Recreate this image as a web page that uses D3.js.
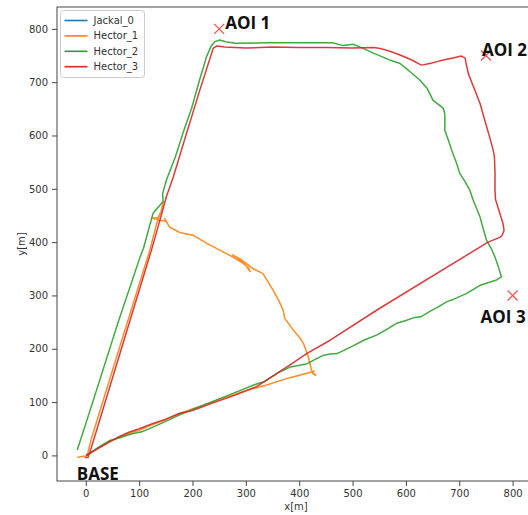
<!DOCTYPE html>
<html>
<head>
<meta charset="utf-8">
<script src="https://cdn.jsdelivr.net/npm/d3@7"></script>
<style>
  body { margin: 0; background: #fff; }
  .tick text { font-family: "DejaVu Sans", sans-serif; font-size: 10px; fill: #333; }
  .tick line { stroke: #444; }
  .label { font-family: "DejaVu Sans", sans-serif; font-size: 10px; fill: #333; }
  .aoi { font-family: "Open Sans", sans-serif; font-weight: bold; font-size: 17px; fill: #111; }
</style>
</head>
<body>
<div id="chart"></div>
<script>
// robot names and trajectories, [x, y] in metres
const robots = ["Jackal_0", "Hector_1", "Hector_2", "Hector_3"];

const jackal0 = [[0, 0]];

const hector1 = [
  [-16, -4], [-8, -2], [1, -1], [4, 5], [10, 30], [60, 192], [120, 385], [132, 432],
  [142, 460], [145, 474], [141, 458],
  [136, 446], [124, 445], [138, 441], [151, 439], [148, 444], [157, 428], [176, 418],
  [201, 413], [226, 398], [251, 385], [276, 372], [295, 360], [305, 352], [308, 345],
  [300, 356], [285, 370], [275, 376], [290, 368], [314, 350], [332, 341], [351, 310],
  [362, 290], [370, 272], [373, 257], [389, 235], [400, 222], [408, 210], [417, 185],
  [423, 160], [426, 153], [431, 150], [424, 157], [428, 158], [414, 154], [395, 149],
  [376, 144], [339, 132], [301, 122], [260, 108], [220, 94], [180, 80], [150, 67],
  [120, 56], [100, 47], [80, 41], [60, 33], [40, 23], [20, 12], [1, -1]
];

const hector2 = [
  [-16, 10], [20, 122], [60, 248], [101, 370], [108, 388], [126, 454], [145, 476],
  [144, 491], [151, 516], [168, 560], [182, 604], [198, 650], [212, 700], [226, 747],
  [235, 768], [242, 776], [251, 779], [262, 776], [280, 773], [350, 774], [400, 774],
  [462, 774], [481, 769], [502, 771], [521, 763], [540, 754], [555, 748], [571, 741],
  [589, 735], [605, 722], [626, 704], [640, 688], [651, 666], [665, 655], [670, 651],
  [673, 640], [673, 610], [680, 590], [686, 572], [695, 548], [701, 529], [710, 515],
  [720, 497], [726, 479], [733, 462], [739, 447], [745, 425], [751, 404], [760, 388],
  [767, 372], [773, 355], [779, 335], [770, 329], [739, 319], [714, 304], [690, 293],
  [676, 288], [660, 278], [645, 270], [628, 260], [614, 258], [600, 253], [583, 248],
  [565, 237], [546, 226], [521, 216], [500, 205], [471, 191], [458, 190], [446, 188],
  [430, 180], [415, 172], [384, 166], [360, 155], [334, 138], [320, 134], [290, 122],
  [250, 106], [200, 86], [176, 76], [157, 67], [130, 55], [107, 45], [85, 40],
  [64, 33], [45, 28], [25, 16], [5, 3], [0, 0]
];

const hector3 = [
  [-2, -4], [4, -4], [9, 10], [60, 178], [123, 385], [142, 452], [151, 485],
  [164, 522], [190, 608], [214, 686], [239, 764], [246, 768], [260, 766],
  [300, 764], [350, 766], [400, 765], [450, 765], [500, 764], [540, 765], [552, 763],
  [570, 758], [589, 751], [610, 742], [629, 732], [645, 735], [664, 740], [690, 746],
  [704, 749], [711, 745], [714, 730], [717, 716], [728, 688], [739, 660], [748, 628],
  [757, 597], [763, 575], [766, 560], [767, 530], [767, 497], [768, 480], [776, 454],
  [782, 435], [784, 422], [780, 412], [776, 409], [754, 400], [551, 276], [458, 216],
  [414, 191], [380, 168], [320, 129], [280, 113], [240, 99], [200, 84], [176, 79],
  [150, 68], [126, 60], [100, 50], [82, 44], [64, 36], [45, 26], [25, 14], [1, 0]
];

const tracks = [jackal0, hector1, hector2, hector3];

// areas of interest and base
const aoiNames = ["AOI 1", "AOI 2", "AOI 3"];
const aoiX = [250, 750, 800];
const aoiY = [800, 750, 300];
const baseName = "BASE";

const xTicks = [0, 100, 200, 300, 400, 500, 600, 700, 800];
const yTicks = [0, 100, 200, 300, 400, 500, 600, 700, 800];

const colours = ["#1f77b4", "#ff7f0e", "#2ca02c", "#d62728"];

const width = 528;
const height = 515;
const plot = { left: 57, right: 535, top: 7, bottom: 481 };

const xScale = d3.scaleLinear().domain([-54, 842]).range([plot.left, plot.right]);
const yScale = d3.scaleLinear().domain([-48, 841]).range([plot.bottom, plot.top]);

const svg = d3
  .select("#chart")
  .append("svg")
  .attr("width", width)
  .attr("height", height);

svg
  .append("clipPath")
  .attr("id", "clip")
  .append("rect")
  .attr("x", plot.left)
  .attr("y", plot.top)
  .attr("width", plot.right - plot.left)
  .attr("height", plot.bottom - plot.top);

// axes
const xAxis = svg
  .append("g")
  .attr("transform", `translate(0,${plot.bottom})`)
  .call(d3.axisBottom(xScale).tickValues(xTicks).tickSize(5).tickPadding(4).tickSizeOuter(0));
xAxis.select(".domain").remove();

const yAxis = svg
  .append("g")
  .attr("transform", `translate(${plot.left},0)`)
  .call(d3.axisLeft(yScale).tickValues(yTicks).tickSize(5).tickPadding(4).tickSizeOuter(0));
yAxis.select(".domain").remove();

svg
  .append("rect")
  .attr("x", plot.left)
  .attr("y", plot.top)
  .attr("width", plot.right - plot.left)
  .attr("height", plot.bottom - plot.top)
  .style("fill", "none")
  .style("stroke", "#444")
  .style("stroke-width", 1);

svg
  .append("text")
  .attr("class", "label")
  .attr("x", (plot.left + plot.right) / 2)
  .attr("y", 510)
  .attr("text-anchor", "middle")
  .text("x[m]");

svg
  .append("text")
  .attr("class", "label")
  .attr("transform", `translate(25,${(plot.top + plot.bottom) / 2}) rotate(-90)`)
  .attr("text-anchor", "middle")
  .text("y[m]");

// trajectories
const line = d3
  .line()
  .x(d => xScale(d[0]))
  .y(d => yScale(d[1]));

svg
  .append("g")
  .attr("clip-path", "url(#clip)")
  .selectAll("path")
  .data(tracks)
  .enter()
  .append("path")
  .attr("d", line)
  .style("fill", "none")
  .style("stroke", (d, i) => colours[i])
  .style("stroke-width", 1.5)
  .style("stroke-linejoin", "round")
  .style("opacity", 0.9);

// AOI markers
const marks = svg.append("g").selectAll("g").data(aoiNames).enter().append("g")
  .attr("transform", (d, i) => `translate(${xScale(aoiX[i])},${yScale(aoiY[i])})`);

marks
  .append("path")
  .attr("d", "M-5,-5L5,5M-5,5L5,-5")
  .style("stroke", "#f05555")
  .style("stroke-width", 1.3);

const labelShift = [[6, 0], [-4, 0], [-32, 28]];
marks
  .append("text")
  .attr("class", "aoi")
  .attr("x", (d, i) => labelShift[i][0])
  .attr("y", (d, i) => labelShift[i][1])
  .text(d => d);

svg
  .append("text")
  .attr("class", "aoi")
  .attr("x", xScale(0) - 9)
  .attr("y", yScale(0) + 25)
  .text(baseName);

// legend
const legend = svg.append("g").attr("transform", "translate(60.5,10.5)");

legend
  .append("rect")
  .attr("width", 84)
  .attr("height", 67)
  .attr("rx", 3)
  .style("fill", "#fff")
  .style("fill-opacity", 0.8)
  .style("stroke", "#ccc");

const items = legend
  .selectAll(".item")
  .data(robots)
  .enter()
  .append("g")
  .attr("class", "item")
  .attr("transform", (d, i) => `translate(0,${10 + i * 15.4})`);

items
  .append("line")
  .attr("x1", 4)
  .attr("x2", 27)
  .style("stroke", (d, i) => colours[i])
  .style("stroke-width", 1.6);

items
  .append("text")
  .attr("class", "label")
  .attr("x", 33)
  .attr("dy", "0.35em")
  .text(d => d);
</script>
</body>
</html>
